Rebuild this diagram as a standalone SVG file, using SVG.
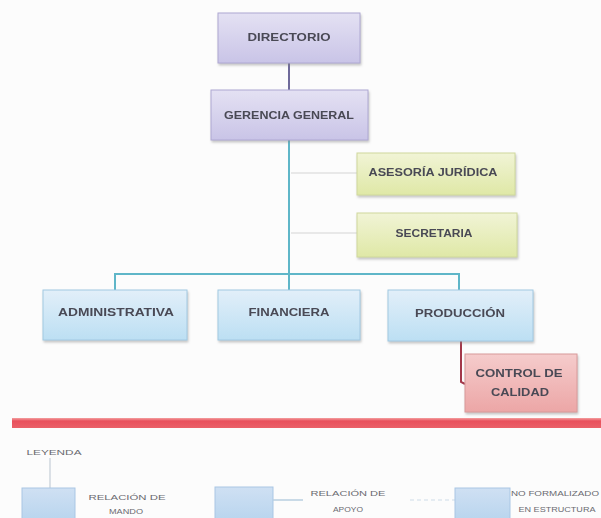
<svg xmlns="http://www.w3.org/2000/svg" width="601" height="518" viewBox="0 0 601 518">
<defs>
<linearGradient id="gLav" x1="0" y1="0" x2="0" y2="1"><stop offset="0" stop-color="#e4e1f3"/><stop offset="1" stop-color="#c9c4e7"/></linearGradient>
<linearGradient id="gGrn" x1="0" y1="0" x2="0" y2="1"><stop offset="0" stop-color="#f1f4d6"/><stop offset="1" stop-color="#dfe8a6"/></linearGradient>
<linearGradient id="gBlu" x1="0" y1="0" x2="0" y2="1"><stop offset="0" stop-color="#e2eff9"/><stop offset="1" stop-color="#bcdff3"/></linearGradient>
<linearGradient id="gPnk" x1="0" y1="0" x2="0" y2="1"><stop offset="0" stop-color="#f5cccc"/><stop offset="1" stop-color="#eca6a6"/></linearGradient>
<linearGradient id="gLeg" x1="0" y1="0" x2="0" y2="1"><stop offset="0" stop-color="#cfe0f3"/><stop offset="1" stop-color="#b9d5ee"/></linearGradient>
<linearGradient id="gBand" x1="0" y1="0" x2="0" y2="1"><stop offset="0" stop-color="#f3a0a0"/><stop offset="0.3" stop-color="#e9505c"/><stop offset="1" stop-color="#ea6068"/></linearGradient>
<filter id="sh" x="-10%" y="-10%" width="125%" height="135%"><feDropShadow dx="1" dy="2" stdDeviation="1.2" flood-color="#888" flood-opacity="0.45"/></filter>
</defs>
<style>
.t{font-family:"Liberation Sans","DejaVu Sans",sans-serif;font-weight:bold;fill:#4a4a55;font-size:10px;text-anchor:middle}
.l{font-family:"Liberation Sans","DejaVu Sans",sans-serif;fill:#6a6a70;font-size:7px;text-anchor:middle}
.lav{fill:url(#gLav);stroke:#aea8d2;stroke-width:1}
.grn{fill:url(#gGrn);stroke:#cfd89c;stroke-width:1}
.blu{fill:url(#gBlu);stroke:#a2c9e2;stroke-width:1}
.pnk{fill:url(#gPnk);stroke:#d89a9a;stroke-width:1}
.leg{fill:url(#gLeg);stroke:#a9c6e4;stroke-width:1}
</style>
<rect width="601" height="518" fill="#fcfcfc"/>
<g id="connectors" fill="none">
<line x1="289" y1="63" x2="289" y2="90" stroke="#6f6a9a" stroke-width="2"/>
<line x1="289" y1="140" x2="289" y2="275" stroke="#5fb6c8" stroke-width="2"/>
<polyline points="115,290 115,274 459,274 459,290" stroke="#5fb6c8" stroke-width="2"/>
<line x1="289" y1="274" x2="289" y2="290" stroke="#5fb6c8" stroke-width="2"/>
<line x1="291" y1="173" x2="357" y2="173" stroke="#e2e2e2" stroke-width="1.5"/>
<line x1="291" y1="233" x2="357" y2="233" stroke="#e2e2e2" stroke-width="1.5"/>
<polyline points="461,340 461,382 465,384" stroke="#a3384a" stroke-width="2"/>
</g>
<g id="directorio" filter="url(#sh)"><rect class="lav" x="218" y="13" width="142" height="50"/><text class="t" x="289" y="41" textLength="83" lengthAdjust="spacingAndGlyphs">DIRECTORIO</text></g>
<g id="gerencia" filter="url(#sh)"><rect class="lav" x="211" y="90" width="157" height="50"/><text class="t" x="289" y="119" textLength="130" lengthAdjust="spacingAndGlyphs">GERENCIA GENERAL</text></g>
<g id="asesoria" filter="url(#sh)"><rect class="grn" x="357" y="153" width="158" height="42"/><text class="t" x="433" y="176" textLength="129" lengthAdjust="spacingAndGlyphs">ASESORÍA JURÍDICA</text></g>
<g id="secretaria" filter="url(#sh)"><rect class="grn" x="357" y="213" width="160" height="44"/><text class="t" x="434" y="237" textLength="77" lengthAdjust="spacingAndGlyphs">SECRETARIA</text></g>
<g id="administrativa" filter="url(#sh)"><rect class="blu" x="43" y="290" width="144" height="50"/><text class="t" x="116" y="316" textLength="116" lengthAdjust="spacingAndGlyphs">ADMINISTRATIVA</text></g>
<g id="financiera" filter="url(#sh)"><rect class="blu" x="218" y="290" width="142" height="50"/><text class="t" x="289" y="316" textLength="81" lengthAdjust="spacingAndGlyphs">FINANCIERA</text></g>
<g id="produccion" filter="url(#sh)"><rect class="blu" x="388" y="290" width="145" height="51"/><text class="t" x="460" y="317" textLength="90" lengthAdjust="spacingAndGlyphs">PRODUCCIÓN</text></g>
<g id="control" filter="url(#sh)"><rect class="pnk" x="465" y="354" width="112" height="58"/><text class="t" x="519" y="377" textLength="87" lengthAdjust="spacingAndGlyphs">CONTROL DE</text><text class="t" x="520" y="396" textLength="58" lengthAdjust="spacingAndGlyphs">CALIDAD</text></g>
<rect x="12" y="418" width="589" height="10" fill="url(#gBand)"/>
<g id="legend">
<text class="l" x="54" y="455" textLength="55" lengthAdjust="spacingAndGlyphs">LEYENDA</text>
<line x1="50" y1="458" x2="50" y2="488" stroke="#b9c4cf" stroke-width="1"/>
<rect class="leg" x="22" y="488" width="53" height="32"/>
<text class="l" x="127" y="500" textLength="77" lengthAdjust="spacingAndGlyphs">RELACIÓN DE</text>
<text class="l" x="126" y="514" textLength="34" lengthAdjust="spacingAndGlyphs">MANDO</text>
<rect class="leg" x="215" y="487" width="58" height="33"/>
<line x1="273" y1="500" x2="303" y2="500" stroke="#b8cfe0" stroke-width="1.5"/>
<text class="l" x="348" y="496" textLength="75" lengthAdjust="spacingAndGlyphs">RELACIÓN DE</text>
<text class="l" x="348" y="512" textLength="30" lengthAdjust="spacingAndGlyphs">APOYO</text>
<line x1="410" y1="500" x2="455" y2="500" stroke="#dde6ee" stroke-width="1.5" stroke-dasharray="4 3"/>
<rect class="leg" x="455" y="488" width="55" height="32"/>
<text class="l" x="555" y="496" textLength="88" lengthAdjust="spacingAndGlyphs">NO FORMALIZADO</text>
<text class="l" x="557" y="512" textLength="77" lengthAdjust="spacingAndGlyphs">EN ESTRUCTURA</text>
</g>
</svg>
